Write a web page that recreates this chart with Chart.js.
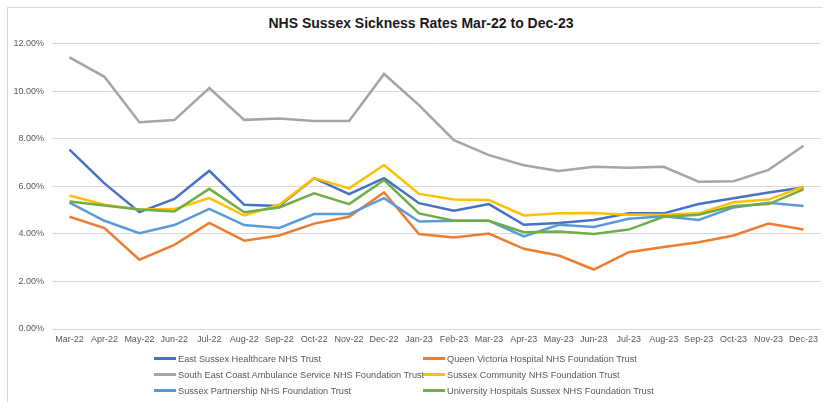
<!DOCTYPE html>
<html>
<head>
<meta charset="utf-8">
<title>NHS Sussex Sickness Rates</title>
<script src="https://cdn.jsdelivr.net/npm/chart.js@4.4.0/dist/chart.umd.min.js"></script>
<style>
    body { margin: 0; background: #fff; font-family: 'Liberation Sans', Arial, sans-serif; }
    #frameTop { position: absolute; left: 7px; top: 7px; width: 816px; height: 1px; background: #d9d9d9; }
    #frameLeft { position: absolute; left: 7px; top: 7px; width: 1px; height: 395px; background: #d9d9d9; }
    #box { position: absolute; left: 0; top: 0; width: 823px; height: 402px; }
    #titulo { position: absolute; left: 0; top: 15px; width: 842px; text-align: center; font-size: 14px; font-weight: bold; color: #1a1a1a; line-height: 17px; }
    #legend { position: absolute; left: 0; top: 0; width: 823px; height: 402px; pointer-events: none; }
    .item { position: absolute; font-size: 9.2px; color: #595959; white-space: nowrap; line-height: 12px; }
    .swatch { display: inline-block; width: 22px; height: 3px; vertical-align: middle; margin-right: 2px; position: relative; top: -1px; }
</style>
</head>
<body>
<div id="frameTop"></div>
<div id="frameLeft"></div>
<div id="titulo">NHS Sussex Sickness Rates Mar-22 to Dec-23</div>
<div id="box"><canvas id="grafica"></canvas></div>
<div id="legend"></div>
<script>
"use strict"

// datos (porcentaje de bajas)
var meses = ['Mar-22', 'Apr-22', 'May-22', 'Jun-22', 'Jul-22', 'Aug-22', 'Sep-22', 'Oct-22', 'Nov-22', 'Dec-22', 'Jan-23',
    'Feb-23', 'Mar-23', 'Apr-23', 'May-23', 'Jun-23', 'Jul-23', 'Aug-23', 'Sep-23', 'Oct-23', 'Nov-23', 'Dec-23'];

var eastSussex = [7.54, 6.12, 4.91, 5.47, 6.65, 5.22, 5.17, 6.34, 5.67, 6.34, 5.29, 4.97, 5.25, 4.38, 4.46, 4.58, 4.86, 4.86, 5.25, 5.50, 5.74, 5.95];
var queenVictoria = [4.72, 4.24, 2.91, 3.54, 4.46, 3.71, 3.93, 4.43, 4.72, 5.74, 3.99, 3.85, 4.01, 3.37, 3.09, 2.50, 3.23, 3.45, 3.65, 3.93, 4.43, 4.18];
var secamb = [11.42, 10.60, 8.69, 8.78, 10.13, 8.79, 8.85, 8.74, 8.74, 10.72, 9.41, 7.94, 7.31, 6.88, 6.64, 6.82, 6.78, 6.82, 6.19, 6.21, 6.69, 7.70];
var sussexCommunity = [5.61, 5.22, 5.02, 5.04, 5.50, 4.77, 5.22, 6.34, 5.91, 6.89, 5.68, 5.44, 5.42, 4.77, 4.86, 4.88, 4.80, 4.80, 4.86, 5.33, 5.44, 5.98];
var sussexPartnership = [5.31, 4.55, 4.03, 4.37, 5.05, 4.37, 4.25, 4.83, 4.83, 5.50, 4.52, 4.55, 4.55, 3.89, 4.38, 4.29, 4.63, 4.74, 4.58, 5.11, 5.31, 5.17];
var uhSussex = [5.36, 5.19, 5.02, 4.94, 5.89, 4.91, 5.11, 5.70, 5.25, 6.26, 4.86, 4.55, 4.55, 4.07, 4.10, 3.99, 4.18, 4.72, 4.80, 5.17, 5.25, 5.87];

var nombres = ['East Sussex Healthcare NHS Trust', 'Queen Victoria Hospital NHS Foundation Trust',
    'South East Coast Ambulance Service NHS Foundation Trust', 'Sussex Community NHS Foundation Trust',
    'Sussex Partnership NHS Foundation Trust', 'University Hospitals Sussex NHS Foundation Trust'];
var series = [eastSussex, queenVictoria, secamb, sussexCommunity, sussexPartnership, uhSussex];
var colores = ['#4472C4', '#ED7D31', '#A5A5A5', '#FFC000', '#5B9BD5', '#70AD47'];

var main = function () {
    let self = this;
    let fuente = "'Liberation Sans', Arial, sans-serif";

    this.datasets = function () {
        return series.map(function (valores, i) {
            return {
                label: nombres[i],
                data: valores,
                borderColor: colores[i],
                backgroundColor: colores[i],
                borderWidth: 2.5,
                pointRadius: 0,
                tension: 0,
                order: series.length - i
            };
        });
    };

    this.insertarGrafica = function () {
        Chart.defaults.font.family = fuente;
        new Chart(document.getElementById('grafica'), {
            type: 'line',
            data: { labels: meses, datasets: self.datasets() },
            options: {
                responsive: true,
                maintainAspectRatio: false,
                animation: false,
                layout: { padding: { left: 0, right: 0, top: 43.5, bottom: 56 } },
                plugins: {
                    legend: { display: false },
                    tooltip: { enabled: false },
                    title: { display: false }
                },
                scales: {
                    x: {
                        offset: true,
                        grid: { display: false, drawTicks: false },
                        border: { display: false },
                        ticks: { color: '#595959', font: { size: 9 }, maxRotation: 0, autoSkip: false, padding: 5 },
                        afterFit: function (s) { s.height = 17; }
                    },
                    y: {
                        min: 0,
                        max: 12,
                        grid: { color: '#d9d9d9', drawTicks: false, lineWidth: 1 },
                        border: { display: false },
                        ticks: {
                            stepSize: 2,
                            color: '#595959',
                            font: { size: 9 },
                            padding: 8,
                            callback: function (v) { return v.toFixed(2) + '%'; }
                        },
                        afterFit: function (s) { s.width = 52; }
                    }
                }
            }
        });
    };

    // leyenda en dos columnas como en Excel
    this.insertarLeyenda = function () {
        var caja = document.getElementById('legend');
        var columnas = [154, 423];
        var filas = [359, 375, 391];
        nombres.forEach(function (nombre, i) {
            var div = document.createElement('div');
            div.className = 'item';
            div.style.left = columnas[i % 2] + 'px';
            div.style.top = (filas[Math.floor(i / 2)] - 6) + 'px';
            div.innerHTML = '<span class="swatch" style="background:' + colores[i] + '"></span>' + nombre;
            caja.appendChild(div);
        });
    };
};

var app = new main();
app.insertarGrafica();
app.insertarLeyenda();
</script>
</body>
</html>
